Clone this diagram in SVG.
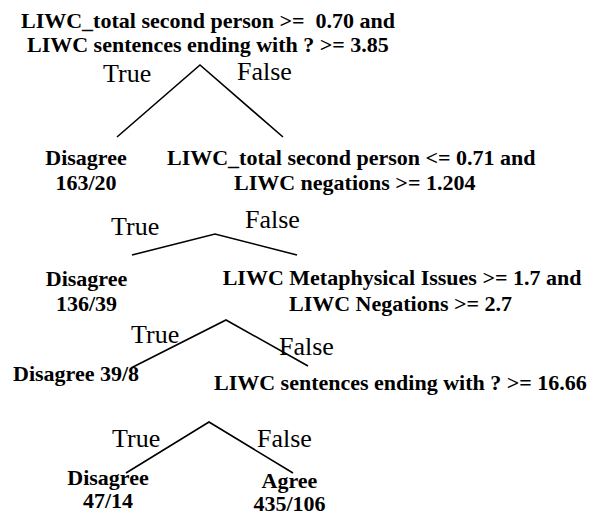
<svg xmlns="http://www.w3.org/2000/svg" width="592" height="516" viewBox="0 0 592 516">
  <style>
    .b { font-family: "Liberation Serif", "Times New Roman", serif; font-weight: bold; font-size: 22px; fill: #000; }
    .r { font-family: "Liberation Serif", "Times New Roman", serif; font-size: 26px; fill: #000; }
    .m { text-anchor: middle; }
    .edge { fill: none; stroke: #000; stroke-width: 1.6; }
  </style>
  <rect width="592" height="516" fill="#fff"/>
  <g id="connectors">
    <path class="edge" d="M117,137 L200,65 L283,137"/>
    <path class="edge" d="M132,255 L215,234 L297,255"/>
    <path class="edge" d="M131,368 L226,320 L308,366"/>
    <path class="edge" d="M126,473 L209,422 L293,473"/>
    <text class="r" x="103" y="82">True</text>
    <text class="r" x="237" y="80">False</text>
    <text class="r" x="111" y="235">True</text>
    <text class="r" x="245" y="228">False</text>
    <text class="r" x="131" y="343">True</text>
    <text class="r" x="279" y="355">False</text>
    <text class="r" x="112" y="447">True</text>
    <text class="r" x="257" y="447">False</text>
  </g>
  <g id="node-root">
    <text class="b" x="21" y="28">LIWC_total second person &gt;=&#160; 0.70 and</text>
    <text class="b" x="27" y="51.5">LIWC sentences ending with ? &gt;= 3.85</text>
  </g>
  <g id="leaf-1">
    <text class="b m" x="86" y="165">Disagree</text>
    <text class="b m" x="86" y="190">163/20</text>
  </g>
  <g id="node-2">
    <text class="b" x="167" y="165">LIWC_total second person &lt;= 0.71 and</text>
    <text class="b" x="234" y="190">LIWC negations &gt;= 1.204</text>
  </g>
  <g id="leaf-2">
    <text class="b m" x="86.5" y="286">Disagree</text>
    <text class="b m" x="86.5" y="311">136/39</text>
  </g>
  <g id="node-3">
    <text class="b" x="222.7" y="285">LIWC Metaphysical Issues &gt;= 1.7 and</text>
    <text class="b" x="289" y="311">LIWC Negations &gt;= 2.7</text>
  </g>
  <g id="leaf-3">
    <text class="b" x="13" y="381">Disagree 39/8</text>
  </g>
  <g id="node-4">
    <text class="b" x="214" y="390">LIWC sentences ending with ? &gt;= 16.66</text>
  </g>
  <g id="leaf-4">
    <text class="b m" x="108" y="485">Disagree</text>
    <text class="b m" x="108" y="508">47/14</text>
  </g>
  <g id="leaf-5">
    <text class="b m" x="289.5" y="488">Agree</text>
    <text class="b m" x="289.5" y="511">435/106</text>
  </g>
</svg>
